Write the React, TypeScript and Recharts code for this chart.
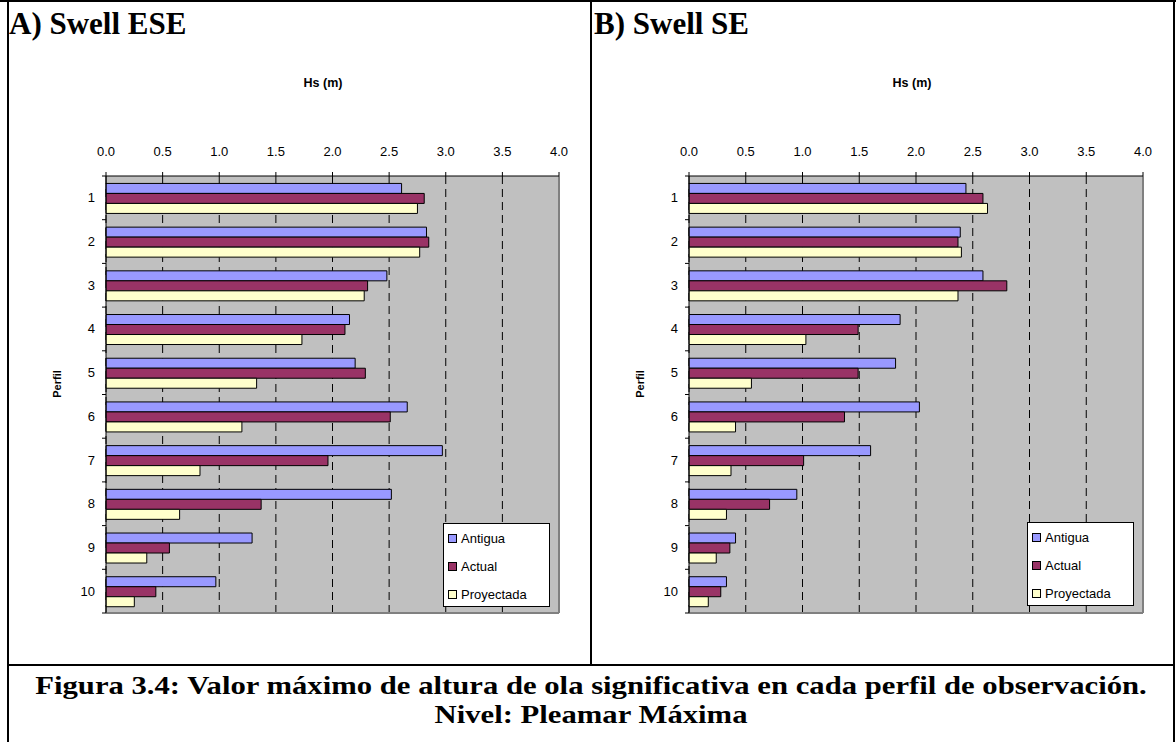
import React from 'react';
import {
  BarChart, Bar, XAxis, YAxis, CartesianGrid, ReferenceLine,
} from 'recharts';

const perfiles = ['1', '2', '3', '4', '5', '6', '7', '8', '9', '10'];
const xTicks = [0, 0.5, 1, 1.5, 2, 2.5, 3, 3.5, 4];

const eseAntigua = [2.61, 2.83, 2.48, 2.15, 2.2, 2.66, 2.97, 2.52, 1.29, 0.97];
const eseActual = [2.81, 2.85, 2.31, 2.11, 2.29, 2.51, 1.96, 1.37, 0.56, 0.44];
const eseProyectada = [2.75, 2.77, 2.28, 1.73, 1.33, 1.2, 0.83, 0.65, 0.36, 0.25];

const seAntigua = [2.44, 2.39, 2.59, 1.86, 1.82, 2.03, 1.6, 0.95, 0.41, 0.33];
const seActual = [2.59, 2.37, 2.8, 1.49, 1.49, 1.37, 1.01, 0.71, 0.36, 0.28];
const seProyectada = [2.63, 2.4, 2.37, 1.03, 0.55, 0.41, 0.37, 0.33, 0.24, 0.17];

const seriesNames = ['Antigua', 'Actual', 'Proyectada'];
const seriesColors = ['#9999FF', '#993366', '#FFFFCC'];

const SANS = '"Liberation Sans", Arial, sans-serif';
const SERIF = '"Liberation Serif", "Times New Roman", serif';

const CHART_H = 665;
const M_TOP = 146;
const X_AXIS_H = 30;
const M_BOTTOM = 52;
const Y_AXIS_W = 40;
const PLOT_H = CHART_H - M_TOP - X_AXIS_H - M_BOTTOM;
const BAND = PLOT_H / perfiles.length;

function buildData(a: number[], b: number[], c: number[]) {
  return perfiles.map((p, i) => ({ perfil: p, Antigua: a[i], Actual: b[i], Proyectada: c[i] }));
}

const LegendBox = ({ left, top }: { left: number; top: number }) => (
  <div
    style={{
      position: 'absolute',
      left,
      top,
      background: '#fff',
      border: '1px solid #000',
      width: 107,
      height: 84,
      boxSizing: 'border-box',
      fontFamily: SANS,
      fontSize: 13,
      paddingLeft: 4,
      paddingTop: 0,
    }}
  >
    {seriesNames.map((n, i) => (
      <div key={n} style={{ display: 'flex', alignItems: 'center', height: 28 }}>
        <span
          style={{
            display: 'inline-block',
            width: 7,
            height: 7,
            background: seriesColors[i],
            border: '1px solid #000',
            marginRight: 4,
          }}
        />
        <span>{n}</span>
      </div>
    ))}
  </div>
);

type PanelProps = {
  left: number;
  width: number;
  marginLeft: number;
  marginRight: number;
  a: number[];
  b: number[];
  c: number[];
  legendLeft: number;
  legendTop: number;
  title: string;
  hsX: number;
  perfilX: number;
};

const Panel = (p: PanelProps) => {
  const data = buildData(p.a, p.b, p.c);
  const plotLeft = p.marginLeft + Y_AXIS_W;
  const YTick = (props: any) => {
    const { y, payload, index } = props;
    return (
      <g>
        <line x1={plotLeft - 4} x2={plotLeft} y1={y - BAND / 2} y2={y - BAND / 2} stroke="#000" />
        {index === perfiles.length - 1 && (
          <line x1={plotLeft - 4} x2={plotLeft} y1={y + BAND / 2} y2={y + BAND / 2} stroke="#000" />
        )}
        <text
          x={plotLeft - 11}
          y={y}
          textAnchor="end"
          dominantBaseline="central"
          fontFamily={SANS}
          fontSize={13}
          fill="#000"
        >
          {payload.value}
        </text>
      </g>
    );
  };
  return (
    <div style={{ position: 'absolute', left: p.left, top: 0, width: p.width, height: CHART_H }}>
      <div
        style={{
          position: 'absolute',
          left: 3,
          top: 6,
          fontFamily: SERIF,
          fontWeight: 'bold',
          fontSize: 31,
          lineHeight: '36px',
          whiteSpace: 'nowrap',
        }}
      >
        {p.title}
      </div>
      <div
        style={{
          position: 'absolute',
          left: p.hsX - 40,
          width: 80,
          top: 76,
          textAlign: 'center',
          fontFamily: SANS,
          fontWeight: 'bold',
          fontSize: 12.5,
        }}
      >
        Hs (m)
      </div>
      <div
        style={{
          position: 'absolute',
          left: p.perfilX - 30,
          top: 384 - 8,
          width: 60,
          height: 16,
          lineHeight: '16px',
          textAlign: 'center',
          transform: 'rotate(-90deg)',
          fontFamily: SANS,
          fontWeight: 'bold',
          fontSize: 11,
        }}
      >
        Perfil
      </div>
      <BarChart
        width={p.width}
        height={CHART_H}
        data={data}
        layout="vertical"
        barCategoryGap="17%"
        barGap={0}
        margin={{ top: M_TOP, right: p.marginRight, bottom: M_BOTTOM, left: p.marginLeft }}
      >
        <CartesianGrid
          fill="#C0C0C0"
          stroke="#000"
          strokeDasharray="8 5"
          horizontal={false}
          vertical={true}
        />
        <CartesianGrid
          stroke="#808080"
          strokeWidth={2}
          vertical={false}
          horizontal={true}
          horizontalCoordinatesGenerator={({ offset }: any) => [offset.top + offset.height]}
        />
        <ReferenceLine x={4} stroke="#808080" strokeWidth={2} />
        <XAxis
          type="number"
          orientation="top"
          domain={[0, 4]}
          ticks={xTicks}
          interval={0}
          height={X_AXIS_H}
          tickFormatter={(v: number) => v.toFixed(1)}
          tick={{ fill: '#000', fontSize: 13, fontFamily: SANS }}
          tickSize={4}
          tickMargin={16}
          stroke="#000"
          axisLine={{ stroke: '#000' }}
          tickLine={{ stroke: '#000' }}
        />
        <YAxis
          type="category"
          dataKey="perfil"
          width={Y_AXIS_W}
          interval={0}
          tick={<YTick />}
          tickLine={false}
          axisLine={{ stroke: '#000' }}
        />
        {seriesNames.map((n, i) => (
          <Bar
            key={n}
            dataKey={n}
            fill={seriesColors[i]}
            stroke="#000"
            strokeWidth={1}
            isAnimationActive={false}
          />
        ))}
      </BarChart>
      <LegendBox left={p.legendLeft} top={p.legendTop} />
    </div>
  );
};

export default function App() {
  return (
    <div style={{ position: 'absolute', left: 0, top: 0, width: 1176, height: 742, background: '#fff', overflow: 'hidden' }}>
      <Panel
        left={6}
        width={584}
        marginLeft={60}
        marginRight={31}
        a={eseAntigua}
        b={eseActual}
        c={eseProyectada}
        legendLeft={437}
        legendTop={523}
        title="A) Swell ESE"
        hsX={317}
        perfilX={51}
      />
      <Panel
        left={591}
        width={585}
        marginLeft={58}
        marginRight={33}
        a={seAntigua}
        b={seActual}
        c={seProyectada}
        legendLeft={436}
        legendTop={522}
        title="B) Swell SE"
        hsX={321}
        perfilX={49}
      />
      {/* frame */}
      <div style={{ position: 'absolute', left: 0, top: 0, width: 1176, height: 2, background: '#000' }} />
      <div style={{ position: 'absolute', left: 7, top: 0, width: 2, height: 742, background: '#000' }} />
      <div style={{ position: 'absolute', left: 1173, top: 0, width: 2, height: 742, background: '#000' }} />
      <div style={{ position: 'absolute', left: 590, top: 0, width: 2, height: 665, background: '#000' }} />
      <div style={{ position: 'absolute', left: 7, top: 664, width: 1168, height: 2, background: '#000' }} />
      <div
        style={{
          position: 'absolute',
          left: 9,
          top: 671,
          width: 1164,
          textAlign: 'center',
          fontFamily: SERIF,
          fontWeight: 'bold',
          fontSize: 26,
          lineHeight: '29px',
          whiteSpace: 'nowrap',
          transform: 'scaleX(1.18)',
          transformOrigin: '50% 0',
        }}
      >
        Figura 3.4: Valor máximo de altura de ola significativa en cada perfil de observación.
        <br />
        Nivel: Pleamar Máxima
      </div>
    </div>
  );
}
